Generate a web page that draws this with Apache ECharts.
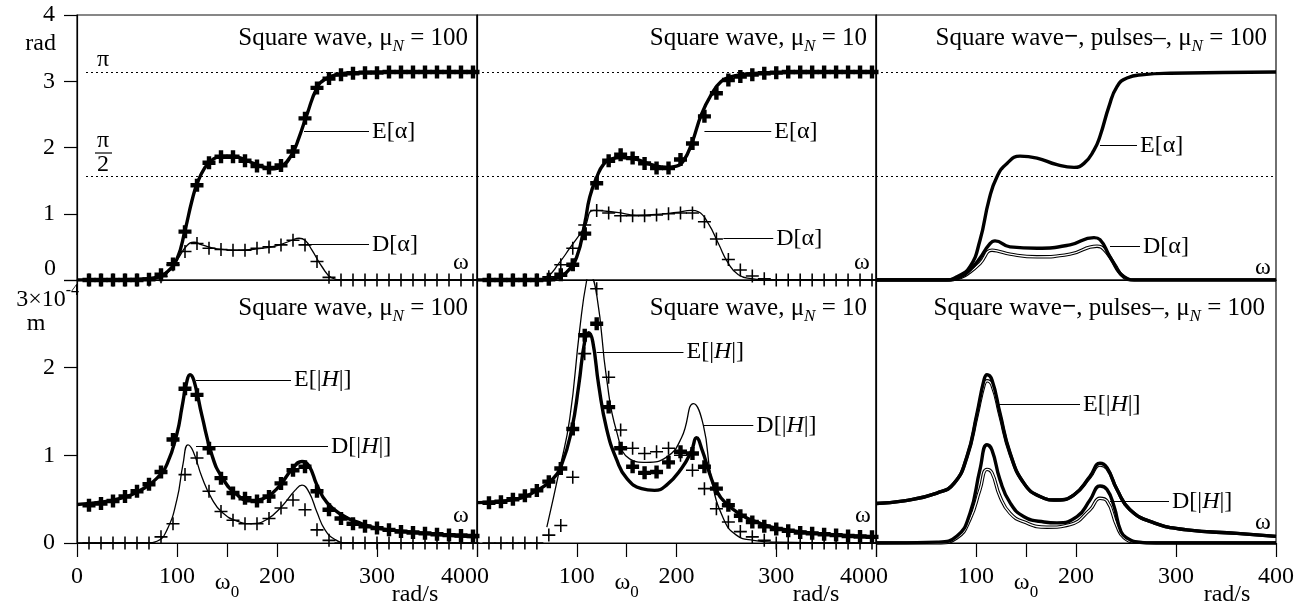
<!DOCTYPE html>
<html>
<head>
<meta charset="utf-8">
<script src="https://cdn.jsdelivr.net/npm/echarts@6/dist/echarts.min.js"></script>
<style>
  html, body { margin: 0; padding: 0; background: #fff; }
  #chart { width: 1310px; height: 607px; }
</style>
</head>
<body>
<div id="chart"></div>
<script>
const FONT = 'Liberation Serif'
const FS = 24
const PI = Math.PI

// omega of the simulated points (the + marks)
const markW = [12, 24, 36, 48, 60, 72, 84, 96, 108, 120, 132, 144, 156, 168, 180, 192, 204,
  216, 228, 240, 252, 264, 276, 288, 300, 312, 324, 336, 348, 360, 372, 384, 396]
const xTicks = [0, 100, 150, 200, 300, 400]

// panel A: square wave, muN = 100, phase
const aEMarks = [0, 0, 0, 0, 0, 0.01, 0.08, 0.24, 0.73, 1.43, 1.77, 1.86, 1.86, 1.8, 1.72, 1.69, 1.73,
  1.94, 2.44, 2.9, 3.04, 3.1, 3.12, 3.13, 3.13, 3.14, 3.14, 3.14, 3.14, 3.14, 3.14, 3.14, 3.14]
const aDMarks = [0, 0, 0, 0, 0, 0, 0.05, 0.23, 0.43, 0.55, 0.48, 0.46, 0.45, 0.45, 0.48, 0.5, 0.53,
  0.6, 0.53, 0.28, 0.04, 0, 0, 0, 0, 0, 0, 0, 0, 0, 0, 0, 0]
const aEX = [0, 60, 80, 90, 100, 108, 115, 120, 128, 135, 145, 155, 170, 185, 195, 205, 215, 222, 230, 240, 248, 260, 280, 320, 400]
const aEY = [0, 0.01, 0.04, 0.12, 0.32, 0.75, 1.2, 1.45, 1.7, 1.81, 1.87, 1.87, 1.8, 1.71, 1.68, 1.72, 1.9, 2.15, 2.5, 2.9, 3.03, 3.1, 3.13, 3.14, 3.14]
const aDX = [0, 70, 80, 90, 100, 110, 117, 125, 140, 160, 180, 200, 215, 222, 228, 235, 245, 255, 265, 400]
const aDY = [0, 0, 0.02, 0.1, 0.3, 0.52, 0.57, 0.53, 0.47, 0.45, 0.47, 0.52, 0.6, 0.63, 0.6, 0.45, 0.2, 0.03, 0, 0]

// panel B: square wave, muN = 10, phase
const bEMarks = [0, 0, 0, 0, 0, 0.01, 0.08, 0.23, 0.7, 1.46, 1.8, 1.89, 1.84, 1.76, 1.69, 1.69, 1.82,
  2.06, 2.47, 2.82, 3.02, 3.07, 3.1, 3.12, 3.13, 3.14, 3.14, 3.14, 3.14, 3.14, 3.14, 3.14, 3.14]
const bDMarks = [0, 0, 0, 0, 0, 0.05, 0.23, 0.48, 0.83, 1.05, 1.01, 0.97, 0.97, 0.97, 0.98, 1.0, 1.01,
  1.01, 0.88, 0.62, 0.31, 0.15, 0.06, 0.02, 0, 0, 0, 0, 0, 0, 0, 0, 0]
const bEX = [0, 70, 80, 90, 100, 108, 113, 120, 127, 135, 145, 160, 175, 190, 200, 207, 215, 225, 235, 245, 255, 270, 300, 400]
const bEY = [0, 0, 0.03, 0.12, 0.35, 0.85, 1.25, 1.55, 1.75, 1.83, 1.85, 1.82, 1.74, 1.7, 1.72, 1.8, 2.05, 2.5, 2.8, 3.0, 3.07, 3.11, 3.13, 3.14]
const bDX = [0, 55, 70, 82, 93, 108, 117, 140, 160, 180, 200, 215, 222, 232, 242, 252, 262, 275, 290, 400]
const bDY = [0, 0, 0.05, 0.25, 0.48, 0.8, 1.05, 1.02, 0.98, 0.99, 1.02, 1.05, 1.03, 0.85, 0.55, 0.25, 0.08, 0.02, 0, 0]

// panel C: square wave (thick) and pulses (thin), muN = 100, phase
const cEX = [0, 70, 81, 94, 104, 113, 121, 131, 144, 161, 181, 198, 208, 218, 224, 233, 241, 251, 268, 294, 400]
const cEY = [0, 0, 0.05, 0.2, 0.6, 1.21, 1.56, 1.76, 1.87, 1.84, 1.74, 1.7, 1.76, 1.96, 2.17, 2.62, 2.92, 3.05, 3.1, 3.12, 3.14]
const cDX = [0, 70, 85, 94, 104, 113, 119, 134, 161, 194, 218, 224, 234, 248, 261, 400]
const cDY = [0, 0, 0.05, 0.15, 0.33, 0.53, 0.59, 0.5, 0.48, 0.53, 0.64, 0.61, 0.35, 0.05, 0, 0]
const cPX = [0, 70, 85, 94, 104, 116, 121, 134, 161, 194, 221, 228, 238, 248, 258, 400]
const cPY = [0, 0, 0.04, 0.12, 0.25, 0.45, 0.44, 0.39, 0.35, 0.39, 0.51, 0.46, 0.25, 0.04, 0, 0]

// panel D: square wave, muN = 100, amplitude
const dEMarks = [0.43, 0.45, 0.48, 0.53, 0.59, 0.67, 0.81, 1.18, 1.76, 1.69, 1.08, 0.74, 0.57, 0.51, 0.48, 0.53, 0.68,
  0.83, 0.87, 0.59, 0.38, 0.28, 0.22, 0.19, 0.17, 0.15, 0.13, 0.12, 0.11, 0.1, 0.09, 0.085, 0.08]
const dDMarks = [0, 0, 0, 0, 0, 0, 0.07, 0.22, 0.78, 0.97, 0.59, 0.36, 0.26, 0.22, 0.22, 0.28, 0.4,
  0.49, 0.38, 0.15, 0.03, 0, 0, 0, 0, 0, 0, 0, 0, 0, 0, 0, 0]
const dEX = [0, 20, 40, 60, 80, 90, 100, 105, 110, 113, 117, 125, 135, 145, 160, 175, 185, 200, 215, 225, 232, 240, 250, 265, 280, 300, 330, 360, 400]
const dEY = [0.44, 0.46, 0.5, 0.58, 0.74, 0.9, 1.25, 1.55, 1.85, 1.92, 1.85, 1.45, 1.0, 0.75, 0.55, 0.48, 0.5, 0.62, 0.84, 0.93, 0.88, 0.66, 0.46, 0.32, 0.24, 0.17, 0.13, 0.1, 0.07]
const dDX = [0, 70, 80, 90, 100, 106, 111, 116, 125, 135, 145, 160, 175, 190, 205, 218, 225, 232, 240, 248, 258, 270, 400]
const dDY = [0, 0, 0.02, 0.15, 0.5, 0.9, 1.12, 1.05, 0.75, 0.5, 0.35, 0.25, 0.22, 0.27, 0.42, 0.6, 0.66, 0.58, 0.35, 0.15, 0.04, 0, 0]

// panel E: square wave, muN = 10, amplitude
const eEMarks = [0.46, 0.47, 0.5, 0.54, 0.6, 0.7, 0.85, 1.3, 2.37, 2.5, 1.55, 1.08, 0.87, 0.8, 0.81, 0.92, 1.04,
  1.02, 0.87, 0.62, 0.43, 0.31, 0.24, 0.19, 0.16, 0.14, 0.12, 0.11, 0.1, 0.09, 0.08, 0.075, 0.07]
const eDMarks = [0, 0, 0, 0, 0, 0.09, 0.2, 0.75, 2.16, 2.9, 1.89, 1.29, 1.08, 1.02, 1.04, 1.08, 1.0,
  0.83, 0.62, 0.39, 0.24, 0.13, 0.07, 0.03, 0, 0, 0, 0, 0, 0, 0, 0, 0]
const eEX = [0, 40, 60, 75, 85, 95, 102, 108, 112, 116, 122, 130, 140, 150, 165, 178, 190, 205, 215, 220, 226, 233, 240, 250, 265, 280, 300, 340, 400]
const eEY = [0.46, 0.5, 0.6, 0.72, 0.9, 1.3, 1.8, 2.3, 2.4, 2.3, 1.8, 1.3, 0.95, 0.74, 0.62, 0.6, 0.66, 0.85, 1.05, 1.2, 1.05, 0.8, 0.6, 0.45, 0.32, 0.24, 0.17, 0.11, 0.07]
const eDX = [70, 83, 93, 103, 110, 113, 120, 130, 140, 153, 170, 190, 205, 217, 227, 235, 247, 260, 277, 300, 400]
const eDY = [0.18, 0.85, 1.42, 2.44, 3.0, 3.05, 2.83, 1.87, 1.27, 0.96, 0.92, 0.98, 1.2, 1.59, 1.34, 0.73, 0.28, 0.09, 0.03, 0.01, 0]

// panel F: square wave (thick) and pulses (thin), muN = 100, amplitude
const fEX = [0, 28, 61, 78, 91, 101, 108, 111, 116, 124, 134, 148, 164, 181, 198, 214, 224, 231, 241, 254, 278, 311, 361, 400]
const fEY = [0.45, 0.48, 0.57, 0.68, 0.99, 1.48, 1.86, 1.92, 1.86, 1.48, 1.03, 0.68, 0.53, 0.49, 0.55, 0.76, 0.91, 0.86, 0.61, 0.38, 0.23, 0.15, 0.11, 0.076]
const fPEY = [0.45, 0.48, 0.57, 0.68, 0.98, 1.45, 1.8, 1.85, 1.8, 1.45, 1.02, 0.68, 0.53, 0.49, 0.55, 0.75, 0.89, 0.85, 0.61, 0.38, 0.23, 0.15, 0.11, 0.076]
const fDX = [0, 61, 81, 94, 104, 111, 116, 124, 134, 148, 168, 181, 201, 214, 224, 231, 238, 245, 252, 262, 280, 400]
const fDY = [0, 0.01, 0.08, 0.34, 0.84, 1.12, 1.06, 0.72, 0.46, 0.3, 0.24, 0.23, 0.3, 0.49, 0.65, 0.61, 0.42, 0.13, 0.05, 0.01, 0, 0]
const fPX = [0, 61, 81, 94, 104, 111, 116, 124, 134, 148, 171, 194, 214, 224, 231, 241, 248, 260, 280, 400]
const fPY = [0, 0, 0.06, 0.27, 0.61, 0.84, 0.8, 0.53, 0.34, 0.24, 0.18, 0.21, 0.38, 0.51, 0.48, 0.19, 0.06, 0.01, 0, 0]

const PLUS_THICK = 'path://M3.3,0H6.7V3.3H10V6.7H6.7V10H3.3V6.7H0V3.3H3.3Z'
const PLUS_THIN = 'path://M4.4,0H5.6V4.4H10V5.6H5.6V10H4.4V5.6H0V4.4H4.4Z'

const zip = (xs, ys) => xs.map((x, i) => [x, ys[i]])
const txt = (extra) => Object.assign({fontFamily: FONT, fontSize: FS, color: '#000'}, extra)
const rich = {
  i: txt({fontStyle: 'italic'}),
  n: txt({fontStyle: 'italic', fontSize: 17, verticalAlign: 'bottom', lineHeight: 34}),
  w: txt({}),
  s: txt({fontSize: 17, verticalAlign: 'bottom', lineHeight: 36}),
  b: txt({fontWeight: 'bold'})
}
const titleRich = {
  n: txt({fontStyle: 'italic', fontSize: 17, verticalAlign: 'bottom', lineHeight: 34}),
  b: txt({fontSize: 25, fontWeight: 'bold'})
}

const grids = [
  {left: 77, top: 15, width: 400, height: 265},
  {left: 477, top: 15, width: 399, height: 265},
  {left: 876, top: 15, width: 400, height: 265},
  {left: 77, top: 280, width: 400, height: 263},
  {left: 477, top: 280, width: 399, height: 263},
  {left: 876, top: 280, width: 400, height: 263}
].map(g => Object.assign(g, {show: true, borderColor: '#111', borderWidth: 1.2, containLabel: false}))

const black = {color: '#000', width: 1.2}

const xAxes = grids.map((g, i) => {
  const bottom = i >= 3
  const col = i % 3
  return {
    type: 'value', gridIndex: i, min: 0, max: 400,
    splitLine: {show: false},
    axisLine: {show: true, onZero: false, lineStyle: black},
    axisTick: {show: bottom, length: 14, customValues: xTicks, lineStyle: black},
    axisLabel: {
      show: bottom, customValues: xTicks, margin: 22,
      fontFamily: FONT, fontSize: FS, color: '#000',
      alignMinLabel: col > 0 ? 'left' : 'center',
      alignMaxLabel: col < 2 ? 'right' : 'center',
      formatter: v => v === 150 ? '{w|ω}{s|0}' : String(v),
      rich: rich
    }
  }
})

const yAxes = grids.map((g, i) => {
  const top = i < 3
  const first = i % 3 === 0
  return {
    type: 'value', gridIndex: i, min: 0, max: top ? 4 : 3, interval: 1,
    splitLine: {show: false},
    axisLine: {show: true, lineStyle: black},
    axisTick: {show: first, length: 13, lineStyle: black},
    axisLabel: {
      show: first, margin: 22, fontFamily: FONT, fontSize: FS, color: '#000',
      formatter: v => top ? (v === 0 ? '' : String(v)) : (v === 3 ? '' : String(v))
    }
  }
})

function curve(grid, data, width, extra) {
  return Object.assign({
    type: 'line', xAxisIndex: grid, yAxisIndex: grid, data: data,
    symbol: 'none', smooth: 0.5,
    lineStyle: {color: '#000', width: width}, z: 3
  }, extra || {})
}

function marks(grid, ys, thick) {
  return {
    type: 'scatter', xAxisIndex: grid, yAxisIndex: grid, data: zip(markW, ys),
    symbol: thick ? PLUS_THICK : PLUS_THIN, symbolSize: 13,
    itemStyle: {color: '#000', opacity: 1}, z: 4
  }
}

function leaders(list) {
  return {
    silent: true, symbol: ['none', 'none'], animation: false,
    lineStyle: {color: '#000', width: 1, type: 'solid'},
    label: {show: true, position: 'end', distance: 3, fontFamily: FONT, fontSize: FS, color: '#000', rich: rich},
    data: list.map(l => [
      {coord: [l[0], l[2]], label: {formatter: l[3]}},
      {coord: [l[1], l[2]]}
    ])
  }
}

function dotted(x0) {
  return {
    silent: true, symbol: ['none', 'none'], animation: false,
    lineStyle: {color: '#000', width: 1, type: [2, 3]},
    label: {show: false},
    data: [PI, PI / 2].map(v => [{coord: [x0, v]}, {coord: [400, v]}])
  }
}

function hollow(grid, data) {
  return [
    curve(grid, data, 3.4, {z: 2}),
    curve(grid, data, 1.3, {z: 2, lineStyle: {color: '#fff', width: 1.3}})
  ]
}

const EA = 'E[α]', DA = 'D[α]'
const EH = 'E[|{i|H}|]', DH = 'D[|{i|H}|]'

const series = [
  // A
  curve(0, zip(aDX, aDY), 1.3, {markLine: dotted(9)}),
  curve(0, zip(aEX, aEY), 3.4, {markLine: leaders([[227, 292, 2.24, EA], [224, 292, 0.54, DA]])}),
  marks(0, aDMarks, false),
  marks(0, aEMarks, true),
  // B
  curve(1, zip(bDX, bDY), 1.3, {markLine: dotted(0)}),
  curve(1, zip(bEX, bEY), 3.4, {markLine: leaders([[228, 295, 2.24, EA], [247, 297, 0.63, DA]])}),
  marks(1, bDMarks, false),
  marks(1, bEMarks, true),
  // C
  ...hollow(2, zip(cPX, cPY)),
  curve(2, zip(cDX, cDY), 3.4, {markLine: dotted(0)}),
  curve(2, zip(cEX, cEY), 3.4, {markLine: leaders([[224, 261, 2.03, EA], [234, 264, 0.51, DA]])}),
  // D
  curve(3, zip(dDX, dDY), 1.3),
  curve(3, zip(dEX, dEY), 3.4, {markLine: leaders([[119, 214, 1.86, EH], [119, 251, 1.1, DH]])}),
  marks(3, dDMarks, false),
  marks(3, dEMarks, true),
  // E
  curve(4, zip(eDX, eDY), 1.3),
  curve(4, zip(eEX, eEY), 3.4, {markLine: leaders([[120, 207, 2.18, EH], [227, 277, 1.34, DH]])}),
  marks(4, eDMarks, false),
  marks(4, eEMarks, true),
  // F
  ...hollow(5, zip(fEX, fPEY)),
  ...hollow(5, zip(fPX, fPY)),
  curve(5, zip(fDX, fDY), 3.4),
  curve(5, zip(fEX, fEY), 3.4, {markLine: leaders([[123, 204, 1.58, EH], [234, 293, 0.475, DH]])})
]

const titleText = [
  'Square wave, μ{n|N} = 100',
  'Square wave, μ{n|N} = 10',
  'Square wave{b|−}, pulses–, μ{n|N} = 100'
]
const titles = [0, 1, 2, 0, 1, 2].map((k, i) => ({
  text: titleText[k],
  right: [842, 443, 43][k] + (i >= 3 && k === 2 ? 2 : 0),
  top: i < 3 ? 21 : 291,
  padding: 0,
  textStyle: txt({fontSize: 25, fontWeight: 'normal', lineHeight: 30, rich: titleRich})
}))

function label(x, y, text, align, extra) {
  return {
    type: 'text', x: x, y: y, silent: true,
    style: Object.assign({
      text: text, align: align || 'center', verticalAlign: 'middle',
      fontFamily: FONT, fontSize: FS, fill: '#000'
    }, extra || {})
  }
}

const graphics = [
  label(56, 44, 'rad', 'right'),
  label(56, 269, '0', 'right'),
  label(79, 300, '3×10{sup|-4}', 'right', {rich: {sup: {fontFamily: FONT, fontSize: 16, verticalAlign: 'top', lineHeight: 34}}}),
  label(36, 324, 'm'),
  label(103, 60, 'π'),
  label(103, 141, 'π'),
  {type: 'line', silent: true, shape: {x1: 95, y1: 153, x2: 112, y2: 153}, style: {stroke: '#000', lineWidth: 1.2}},
  label(103, 165, '2'),
  label(461, 263, 'ω'),
  label(862, 263, 'ω'),
  label(1263, 268, 'ω'),
  label(461, 516, 'ω'),
  label(863, 516, 'ω'),
  label(1263, 523, 'ω'),
  label(415, 595, 'rad/s'),
  label(816, 595, 'rad/s'),
  label(1227, 595, 'rad/s')
]

const chart = echarts.init(document.getElementById('chart'))
chart.setOption({
  animation: false,
  backgroundColor: '#fff',
  title: titles,
  grid: grids,
  xAxis: xAxes,
  yAxis: yAxes,
  series: series,
  graphic: graphics
})
</script>
</body>
</html>
